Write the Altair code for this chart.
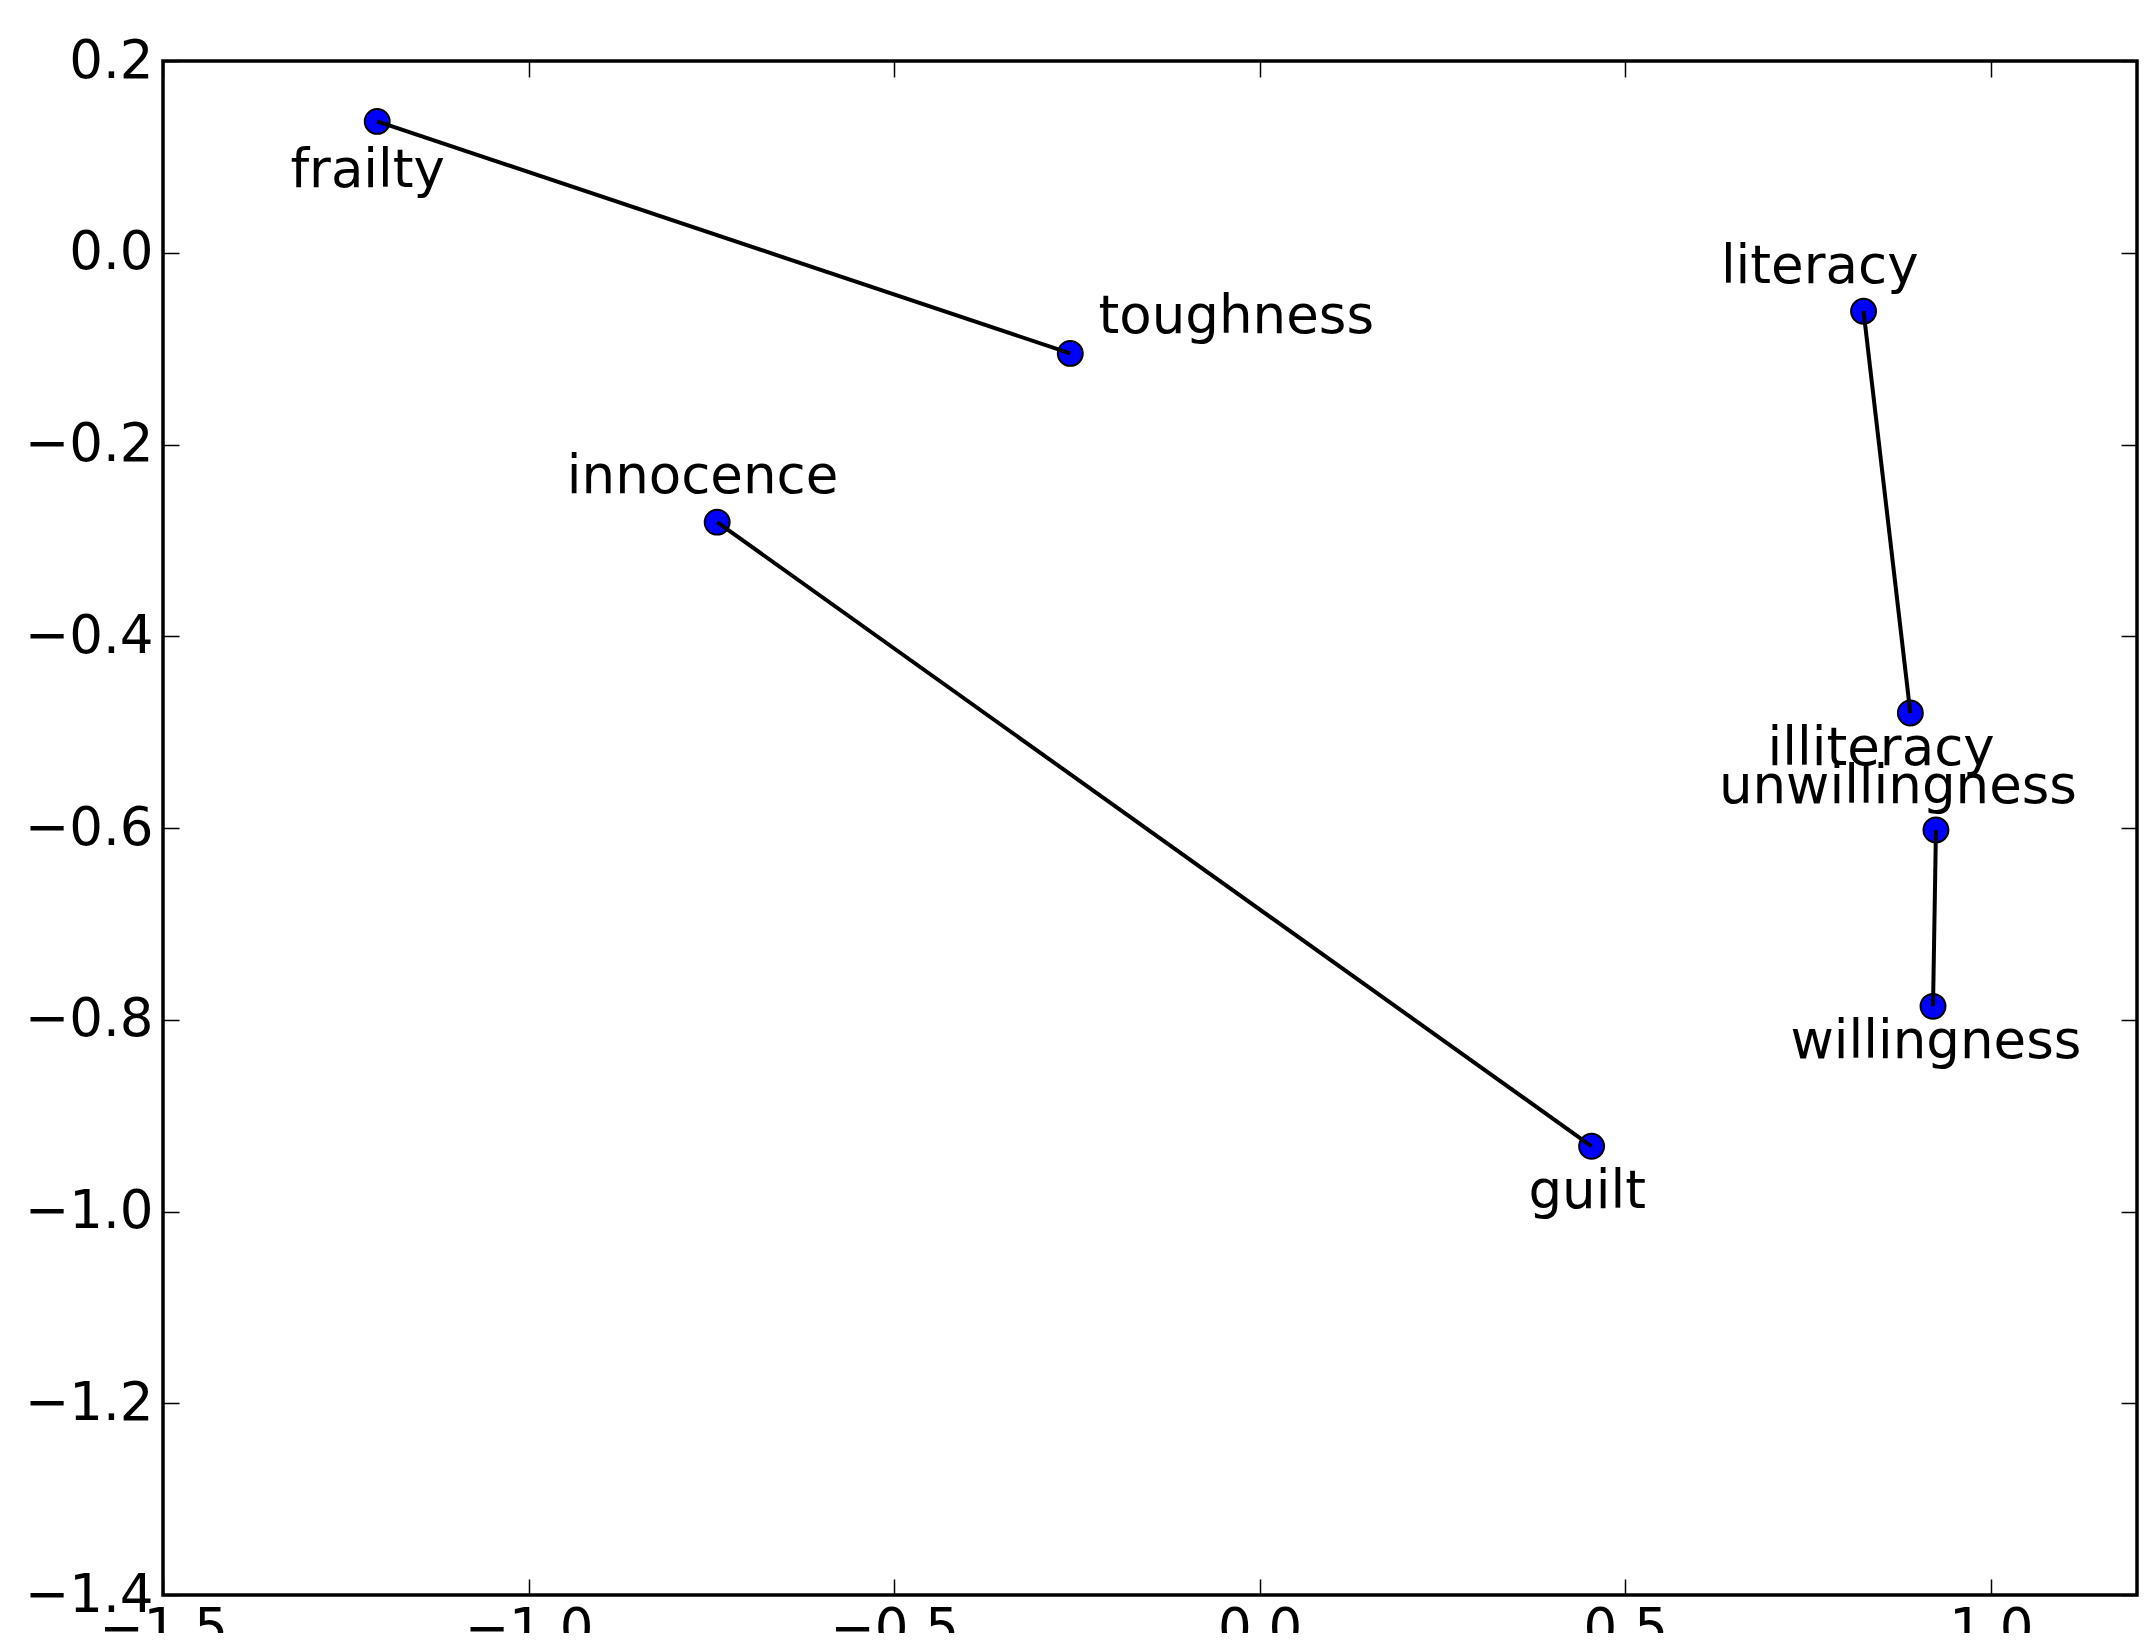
import altair as alt
import pandas as pd

words = ["frailty", "toughness", "innocence", "guilt",
         "literacy", "illiteracy", "unwillingness", "willingness"]
pair_id = [1, 1, 2, 2, 3, 3, 4, 4]
pair_order = [0, 1, 0, 1, 0, 1, 0, 1]
x_vals = [-1.207, -0.259, -0.742, 0.454, 0.826, 0.890, 0.925, 0.921]
y_vals = [0.137, -0.105, -0.281, -0.932, -0.061, -0.480, -0.602, -0.786]
label_x = [-1.220, -0.032, -0.762, 0.448, 0.766, 0.850, 0.873, 0.925]
label_y = [0.085, -0.067, -0.234, -0.980, -0.015, -0.518, -0.557, -0.823]

x_ticks = [-1.5, -1.0, -0.5, 0.0, 0.5, 1.0]
y_ticks = [-1.4, -1.2, -1.0, -0.8, -0.6, -0.4, -0.2, 0.0, 0.2]
x_domain = [-1.5, 1.2]
y_domain = [-1.4, 0.2]

W, H = 1974, 1534
FONT = "DejaVu Sans"
FS = 53

df = pd.DataFrame({
    "word": words, "pair": pair_id, "ord": pair_order,
    "x": x_vals, "y": y_vals, "lx": label_x, "ly": label_y,
})

xs = alt.Scale(domain=x_domain, nice=False, zero=False)
ys = alt.Scale(domain=y_domain, nice=False, zero=False)

label_axis = dict(labelFont=FONT, labelFontSize=FS, labelColor="black",
                  labelFlush=False, labelOverlap=False, labelBound=False,
                  ticks=False, tickSize=0, domain=False, grid=False, title="",
                  format=".1f")
tick_axis = dict(labels=False, ticks=True, tickSize=16, tickWidth=1.5,
                 tickColor="black", domain=False, grid=False, title="")

points = alt.Chart(df).mark_point(
    shape="circle", filled=True, fill="#0000ff", stroke="black",
    strokeWidth=2, size=620, opacity=1
).encode(
    x=alt.X("x:Q", scale=xs, axis=alt.Axis(orient="bottom", values=x_ticks,
                                           labelPadding=8, **label_axis)),
    y=alt.Y("y:Q", scale=ys, axis=alt.Axis(orient="left", values=y_ticks,
                                           labelPadding=10, **label_axis)),
)

lines = alt.Chart(df).mark_line(color="black", strokeWidth=4).encode(
    x=alt.X("x:Q", scale=xs, axis=alt.Axis(orient="top", offset=-H,
                                           values=x_ticks, **tick_axis)),
    y=alt.Y("y:Q", scale=ys, axis=alt.Axis(orient="right", offset=-W,
                                           values=y_ticks, **tick_axis)),
    detail="pair:N",
    order="ord:Q",
)

texts = alt.Chart(df).mark_text(
    font=FONT, fontSize=FS, color="black", align="center", baseline="middle"
).encode(
    x=alt.X("lx:Q", scale=xs, axis=alt.Axis(orient="bottom", offset=-H,
                                            values=x_ticks, **tick_axis)),
    y=alt.Y("ly:Q", scale=ys, axis=alt.Axis(orient="left", offset=-W,
                                            values=y_ticks, **tick_axis)),
    text="word:N",
)

chart = alt.layer(points, lines, texts).resolve_axis(
    x="independent", y="independent"
).properties(
    width=W, height=H,
    autosize=alt.AutoSizeParams(type="none"),
    padding={"left": 155, "top": 53, "right": 2, "bottom": 38},
    background="white",
).configure_view(stroke="black", strokeWidth=3.5)

chart.save("out.html", embed_options={"renderer": "svg", "actions": False})
